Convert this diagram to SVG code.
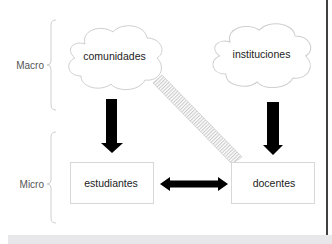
<svg xmlns="http://www.w3.org/2000/svg" width="332" height="244" viewBox="0 0 332 244">
<defs>
<style>
.lbl{font-family:"Liberation Sans",Arial,sans-serif;font-size:10.5px;fill:#222;text-anchor:middle}
.side{font-family:"Liberation Sans",Arial,sans-serif;font-size:10px;fill:#555;text-anchor:end}
.brace{fill:none;stroke:#cfcfcf;stroke-width:1}
.cloud{fill:#fff;stroke:#cfcfcf;stroke-width:1}
.box{fill:#fff;stroke:#d8d8d8;stroke-width:1}
.arr{fill:#000}
</style>
<pattern id="hatch" patternUnits="userSpaceOnUse" width="2.5" height="10" patternTransform="rotate(45.7 158 79)">
<rect width="2.5" height="10" fill="#fff"/>
<line x1="0.6" y1="0" x2="0.6" y2="10" stroke="#c4c4c4" stroke-width="1"/>
</pattern>
<path id="cloudShape" d="M20,22 C16,8 36,2 48,10 C56,0 80,2 82,16 C96,16 102,30 92,36 C102,46 94,60 80,58 C74,70 52,70 46,62 C36,70 16,66 16,54 C2,54 0,40 10,36 C0,28 8,18 20,22 Z"/>
</defs>
<rect width="332" height="244" fill="#fff"/>
<rect x="8" y="235" width="324" height="9" fill="#e8e8ea"/>
<line x1="327" y1="0" x2="327" y2="235" stroke="#000" stroke-width="1.5"/>

<g id="macro">
<path class="brace" d="M56,20 Q51,20 51,25 L51,61 Q51,65 47,65 Q51,65 51,69 L51,105 Q51,110 56,110"/>
<text class="side" x="44" y="69">Macro</text>
</g>
<g id="micro">
<path class="brace" d="M56,132 Q51,132 51,137 L51,180 Q51,184 47,184 Q51,184 51,188 L51,218 Q51,223 56,223"/>
<text class="side" x="44" y="188">Micro</text>
</g>

<g id="connectors">
<polygon points="153,83 162,75 242,157 232,164" fill="url(#hatch)" stroke="#cfcfcf" stroke-width="0.8"/>
<polygon class="arr" points="106,99 117,99 117,143 123,143 112,153 101,143 106,143"/>
<polygon class="arr" points="267,102 279,102 279,145 283,145 273,155 263,145 267,145"/>
<polygon class="arr" points="160,184 170,177 170,180.5 218,180.5 218,177 228,184 218,191 218,187.5 170,187.5 170,191"/>
</g>

<g id="comunidades">
<use href="#cloudShape" class="cloud" transform="translate(65,22)"/>
<text class="lbl" x="114.5" y="60">comunidades</text>
</g>
<g id="instituciones">
<use href="#cloudShape" class="cloud" transform="translate(209,20) scale(1.05,1)"/>
<text class="lbl" x="261.5" y="58">instituciones</text>
</g>
<g id="estudiantes">
<rect class="box" x="70.5" y="162.5" width="83" height="41"/>
<text class="lbl" x="111" y="187">estudiantes</text>
</g>
<g id="docentes">
<rect class="box" x="231.5" y="162.5" width="83" height="41"/>
<text class="lbl" x="274" y="187">docentes</text>
</g>
</svg>
